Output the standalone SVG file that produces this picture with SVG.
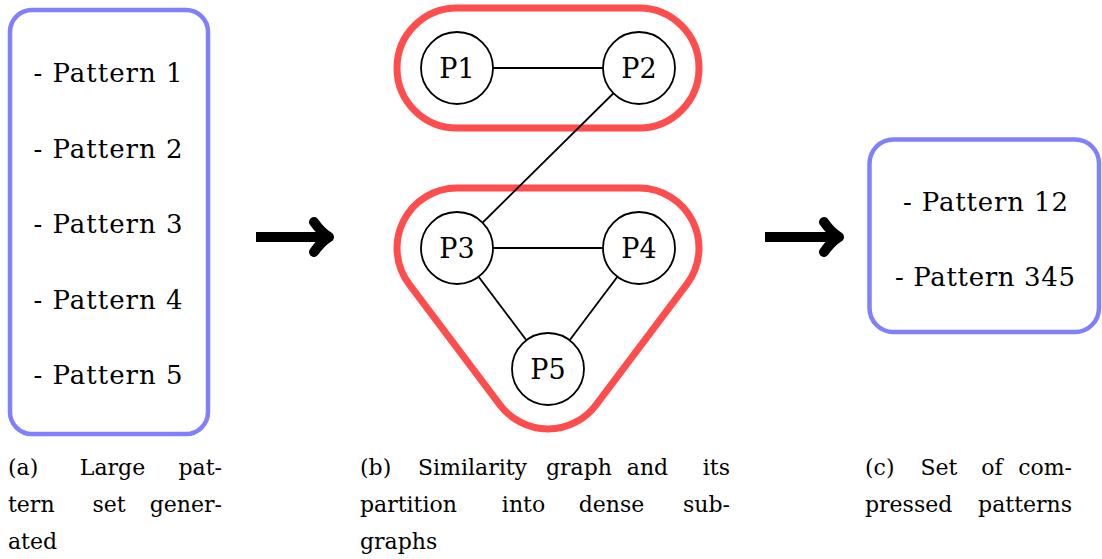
<svg xmlns="http://www.w3.org/2000/svg" width="1102" height="559" viewBox="0 0 1102 559">
<style>
text{font-family:"DejaVu Serif","Liberation Serif",serif;fill:#000}
.box{fill:none;stroke:#8080ff;stroke-width:4.5}
.hull{fill:none;stroke:#ff4d4d;stroke-width:7}
.node{fill:#fff;stroke:#000;stroke-width:1.8}
.edge{stroke:#000;stroke-width:1.8}
.lbl{font-size:27px;text-anchor:middle}
.pat{font-size:26px;text-anchor:middle}
.cap{font-size:22px}
.m{text-anchor:middle}
.e{text-anchor:end}
.shaft{fill:none;stroke:#000;stroke-width:10}
.arr{fill:none;stroke:#000;stroke-width:10;stroke-linecap:round;stroke-linejoin:round}
</style>
<rect width="1102" height="559" fill="#fff"/>
<g id="pattern-set">
<rect class="box" x="10" y="10" width="198" height="424" rx="22"/>
<text class="pat" x="108" y="82" textLength="149">- Pattern 1</text>
<text class="pat" x="108" y="157.5" textLength="149">- Pattern 2</text>
<text class="pat" x="108" y="233" textLength="149">- Pattern 3</text>
<text class="pat" x="108" y="308.5" textLength="149">- Pattern 4</text>
<text class="pat" x="108" y="384" textLength="149">- Pattern 5</text>
</g>
<g id="arrow1">
<path class="shaft" d="M256,237 H324"/>
<path class="arr" d="M314,222 Q321,232 329,237 Q321,242 314,252"/>
</g>
<g id="arrow2">
<path class="shaft" d="M765,237 H834"/>
<path class="arr" d="M824,222 Q831,232 839,237 Q831,242 824,252"/>
</g>
<g id="hull-12">
<rect class="hull" x="397" y="8" width="302" height="120" rx="60"/>
</g>
<g id="hull-345">
<path class="hull" d="M457,188 L639,188 A60,60 0 0 1 686.9,284.1 L595.9,405.1 A60,60 0 0 1 500.1,405.1 L409.1,284.1 A60,60 0 0 1 457,188 Z"/>
</g>
<g id="connectors">
<line class="edge" x1="457" y1="68" x2="639" y2="68"/>
<line class="edge" x1="639" y1="68" x2="457" y2="248"/>
<line class="edge" x1="457" y1="248" x2="639" y2="248"/>
<line class="edge" x1="457" y1="248" x2="548" y2="369"/>
<line class="edge" x1="639" y1="248" x2="548" y2="369"/>
</g>
<g id="P1"><circle class="node" cx="457" cy="68" r="36"/><text class="lbl" x="457" y="78">P1</text></g>
<g id="P2"><circle class="node" cx="639" cy="68" r="36"/><text class="lbl" x="639" y="78">P2</text></g>
<g id="P3"><circle class="node" cx="457" cy="248" r="36"/><text class="lbl" x="457" y="258">P3</text></g>
<g id="P4"><circle class="node" cx="639" cy="248" r="36"/><text class="lbl" x="639" y="258">P4</text></g>
<g id="P5"><circle class="node" cx="548" cy="369" r="36"/><text class="lbl" x="548" y="379">P5</text></g>
<g id="compressed">
<rect class="box" x="869.5" y="139.5" width="229.5" height="192.5" rx="24"/>
<text class="pat" x="985.5" y="211" textLength="165">- Pattern 12</text>
<text class="pat" x="985" y="286" textLength="180">- Pattern 345</text>
</g>
<g id="caption-a" class="cap">
<text x="8" y="475">(a)</text><text class="m" x="112.5" y="475">Large</text><text class="e" x="222" y="475">pat-</text>
<text x="8" y="512">tern</text><text class="m" x="109" y="512">set</text><text class="e" x="222" y="512">gener-</text>
<text x="8" y="549">ated</text>
</g>
<g id="caption-b" class="cap">
<text x="360" y="475">(b)</text><text class="m" x="472.5" y="475">Similarity</text><text class="m" x="579" y="475">graph</text><text class="m" x="647.5" y="475">and</text><text class="e" x="730" y="475">its</text>
<text x="360" y="512">partition</text><text class="m" x="523.5" y="512">into</text><text class="m" x="611.5" y="512">dense</text><text class="e" x="730" y="512">sub-</text>
<text x="360" y="549">graphs</text>
</g>
<g id="caption-c" class="cap">
<text x="865" y="475">(c)</text><text class="m" x="939" y="475">Set</text><text class="m" x="992" y="475">of</text><text class="e" x="1072" y="475">com-</text>
<text x="865" y="512">pressed</text><text class="e" x="1072" y="512">patterns</text>
</g>
</svg>
